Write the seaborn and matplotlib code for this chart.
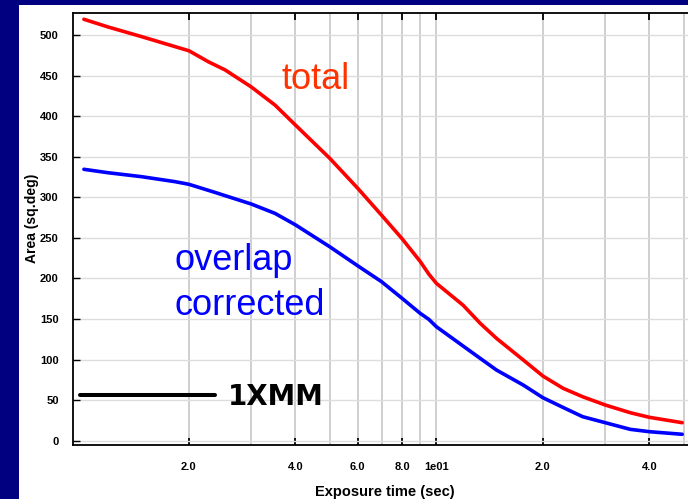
import matplotlib
matplotlib.use("Agg")
import numpy as np
import pandas as pd
import seaborn as sns
import matplotlib.pyplot as plt
from matplotlib.patches import Rectangle
from matplotlib.lines import Line2D
from matplotlib.ticker import FixedLocator, FixedFormatter, NullFormatter

# ---- data ----
total_time = [1.01, 1.18, 1.47, 1.83, 2.0, 2.27, 2.53, 3.0, 3.5, 4, 5, 6, 7, 8, 9, 9.52, 10,
              11.9, 13.3, 14.8, 17.6, 20, 22.8, 25.9, 30, 35.3, 40, 49.5]
total_area = [519.4, 510, 498, 485.6, 480.6, 467, 457, 436, 413.7, 389, 348, 311, 278, 249, 221, 205.4, 194,
              167, 144.7, 126, 99.5, 79.7, 64.6, 54.2, 44, 34.5, 28.8, 22.2]

corr_time = [1.01, 1.18, 1.47, 1.83, 2.0, 2.37, 3.0, 3.5, 4, 5, 6, 7, 8, 9, 9.52, 10,
             11.9, 13.3, 14.8, 17.6, 20, 22.8, 25.9, 30, 35.3, 40, 49.5]
corr_area = [334.5, 330.3, 325.4, 319.2, 316, 306, 291.7, 280.2, 266, 239, 215.5, 196, 175.5, 157, 149.6, 140.5,
             116.7, 101.5, 87, 68.6, 53, 41, 29.6, 22.2, 14, 11.1, 7.9]

x_major_ticks = [2, 4, 6, 8, 10, 20, 40]
x_major_labels = ["2.0", "4.0", "6.0", "8.0", "1e01", "2.0", "4.0"]
x_minor_ticks = [3, 5, 7, 9, 30, 50]
y_ticks = [0, 50, 100, 150, 200, 250, 300, 350, 400, 450, 500]

df = pd.DataFrame({
    "time": total_time + corr_time,
    "area": total_area + corr_area,
    "series": ["total"] * len(total_time) + ["overlap corrected"] * len(corr_time),
})

sns.set_theme(style="white")
plt.rcParams["font.family"] = ["Liberation Sans", "DejaVu Sans"]
plt.rcParams["text.color"] = "black"
plt.rcParams["axes.labelcolor"] = "black"
plt.rcParams["xtick.color"] = "black"
plt.rcParams["ytick.color"] = "black"

W, H = 688, 499
fig = plt.figure(figsize=(W / 100, H / 100), dpi=100, facecolor="#000080")
fig.add_artist(Rectangle((19 / W, 0), 1 - 19 / W, 1 - 5 / H, transform=fig.transFigure,
                         facecolor="white", edgecolor="none", zorder=-10))

left, right, top, bottom = 72.7, 688, 12.7, 445
ax = fig.add_axes([left / W, 1 - bottom / H, (right - left) / W, (bottom - top) / H])
ax.set_facecolor("white")
ax.set_xscale("log")

sns.lineplot(data=df, x="time", y="area", hue="series",
             palette={"total": "#ff0000", "overlap corrected": "#0000ff"},
             estimator=None, sort=True, lw=2.6, legend=False, ax=ax)

ax.set_xlim(0.939, 51.4)
ax.set_ylim(-5.3, 527.5)

ax.xaxis.set_major_locator(FixedLocator(x_major_ticks))
ax.xaxis.set_major_formatter(FixedFormatter(x_major_labels))
ax.xaxis.set_minor_locator(FixedLocator(x_minor_ticks))
ax.xaxis.set_minor_formatter(NullFormatter())
ax.yaxis.set_major_locator(FixedLocator(y_ticks))

ax.grid(True, which="both", axis="x", color="#cccccc", lw=1.3)
ax.grid(True, which="major", axis="y", color="#dddddd", lw=1.0)
ax.set_axisbelow(True)

ax.tick_params(axis="x", which="major", direction="in", length=5, width=1.3, colors="black",
               top=True, bottom=True, pad=12, labelsize=8)
ax.tick_params(axis="x", which="minor", length=0)
ax.tick_params(axis="y", direction="in", length=5, width=1.0, colors="black",
               left=True, right=False, pad=10, labelsize=8)
for lab in ax.get_xticklabels() + ax.get_yticklabels():
    lab.set_fontweight("bold")

for side in ["top", "bottom", "left"]:
    ax.spines[side].set_color("black")
    ax.spines[side].set_linewidth(1.3)
ax.spines["right"].set_visible(False)

ax.set_xlabel("Exposure time (sec)", fontsize=10.5, fontweight="bold", color="black")
ax.set_ylabel("Area (sq.deg)", fontsize=10, fontweight="bold", color="black")
ax.xaxis.set_label_coords((385 - left) / (right - left), (bottom - 485) / (bottom - top))
ax.yaxis.set_label_coords((39 - left) / (right - left), (bottom - 218) / (bottom - top))

# series annotations
ax.text(282 / W, 1 - 89.3 / H, "total", transform=fig.transFigure, fontsize=26,
        color="#ff3300", ha="left", va="baseline")
ax.text(175 / W, 1 - 270 / H, "overlap", transform=fig.transFigure, fontsize=26,
        color="#0000ff", ha="left", va="baseline")
ax.text(175 / W, 1 - 315 / H, "corrected", transform=fig.transFigure, fontsize=26,
        color="#0000ff", ha="left", va="baseline")

# legend key
handle = Line2D([], [], color="black", lw=2.9)
ax.legend(handles=[handle], labels=["1XMM"], loc="center left",
          bbox_to_anchor=(80 / W, 1 - 397 / H), bbox_transform=fig.transFigure,
          frameon=False, borderpad=0, borderaxespad=0, handlelength=4.86,
          handletextpad=0.48, labelcolor="black",
          prop={"family": "DejaVu Sans", "weight": "bold", "size": 20})

fig.savefig("out.png", dpi=100, facecolor=fig.get_facecolor())
